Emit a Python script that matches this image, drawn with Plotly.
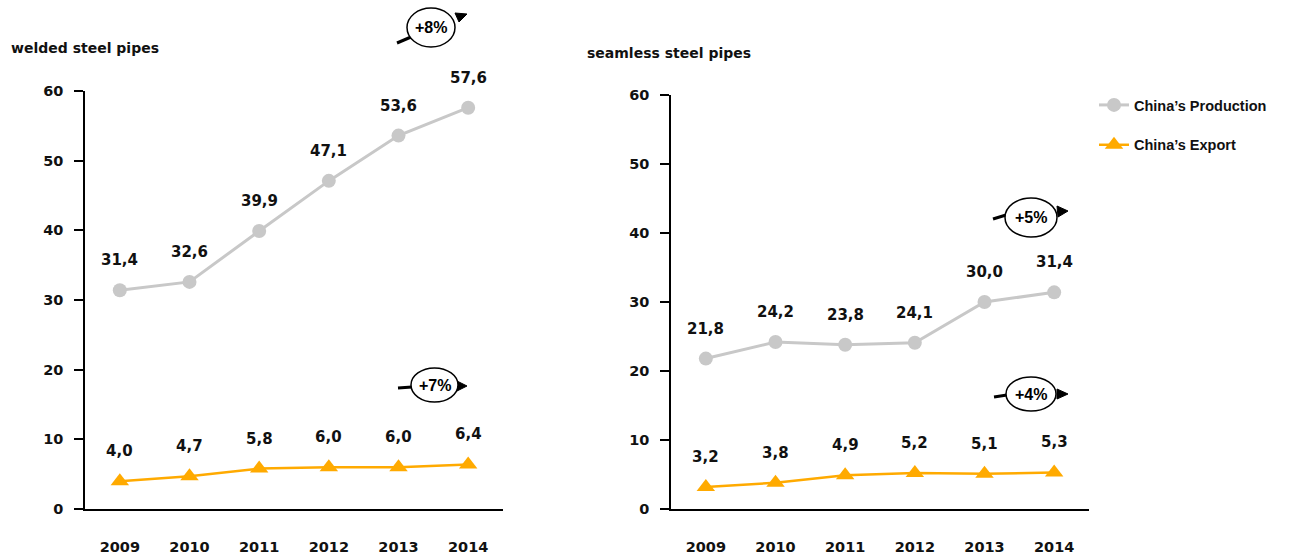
import plotly.graph_objects as go

W, H = 1301, 560

years = ["2009", "2010", "2011", "2012", "2013", "2014"]
welded_production = [31.4, 32.6, 39.9, 47.1, 53.6, 57.6]
welded_export = [4.0, 4.7, 5.8, 6.0, 6.0, 6.4]
seamless_production = [21.8, 24.2, 23.8, 24.1, 30.0, 31.4]
seamless_export = [3.2, 3.8, 4.9, 5.2, 5.1, 5.3]
y_ticks = [0, 10, 20, 30, 40, 50, 60]
titles = ["welded steel pipes", "seamless steel pipes"]
cagr_labels = ["+8%", "+7%", "+5%", "+4%"]

GRAY = "#C8C8C8"
ORANGE = "#FFAA00"
FONT = "DejaVu Sans, sans-serif"
LFONT = "Liberation Sans, Arial, sans-serif"


def px(x):
    return x / W


def py(y):
    return 1 - y / H


def fmt(v):
    return f"{v:.1f}".replace(".", ",")


fig = go.Figure()

panels = [
    ("x", "y", welded_production, welded_export, False),
    ("x2", "y2", seamless_production, seamless_export, True),
]

for xa, ya, prod, exp, show in panels:
    fig.add_trace(go.Scatter(
        x=years, y=prod, xaxis=xa, yaxis=ya, mode="lines+markers",
        name="China\u2019s Production", legendgroup="p", showlegend=show,
        line=dict(color=GRAY, width=3),
        marker=dict(symbol="circle", size=14, color=GRAY),
    ))
    fig.add_trace(go.Scatter(
        x=years, y=exp, xaxis=xa, yaxis=ya, mode="lines+markers",
        name="China\u2019s Export", legendgroup="e", showlegend=show,
        line=dict(color=ORANGE, width=2.5),
        marker=dict(symbol="triangle-up", size=16, color=ORANGE),
    ))
    for series in (prod, exp):
        for i, v in enumerate(series):
            fig.add_annotation(
                x=i, y=v, xref=xa, yref=ya, text=fmt(v), showarrow=False,
                xanchor="center", yanchor="middle",
                yshift=30, font=dict(family=FONT, size=15, color="#111", weight="bold"),
            )

axis_common_x = dict(
    type="category", range=[-0.5, len(years) - 0.5], automargin=False,
    showline=True, linecolor="#000", linewidth=1.5,
    ticks="", showgrid=False, zeroline=False, ticklabelstandoff=24,
    tickfont=dict(family=FONT, size=14.5, color="#111", weight="bold"),
    fixedrange=True,
)
axis_common_y = dict(
    range=[0, 60], tickvals=y_ticks, automargin=False,
    showline=True, linecolor="#000", linewidth=1.5,
    ticks="outside", ticklen=9, tickwidth=1.5, tickcolor="#000",
    showgrid=False, zeroline=False, ticklabelstandoff=8,
    tickfont=dict(family=FONT, size=14.5, color="#111", weight="bold"),
    fixedrange=True,
)

fig.update_layout(
    width=W, height=H, autosize=False,
    margin=dict(l=0, r=0, t=0, b=0, autoexpand=False),
    paper_bgcolor="white", plot_bgcolor="white",
    xaxis=dict(domain=[px(85), px(503)], anchor="y", **axis_common_x),
    yaxis=dict(domain=[py(509), py(91)], anchor="x", **axis_common_y),
    xaxis2=dict(domain=[px(671), px(1089)], anchor="y2", **axis_common_x),
    yaxis2=dict(domain=[py(509), py(95)], anchor="x2", **axis_common_y),
    legend=dict(
        x=px(1094), y=py(89), xanchor="left", yanchor="top",
        font=dict(family=LFONT, size=14.5, color="#111", weight="bold"),
        tracegroupgap=18, bgcolor="rgba(0,0,0,0)",
    ),
    showlegend=True,
)

# panel titles
fig.add_annotation(x=px(9), y=py(48), xref="paper", yref="paper",
                   xanchor="left", yanchor="middle",
                   text=titles[0], showarrow=False,
                   font=dict(family=FONT, size=14, color="#111", weight="bold"))
fig.add_annotation(x=px(585), y=py(53), xref="paper", yref="paper",
                   xanchor="left", yanchor="middle",
                   text=titles[1], showarrow=False,
                   font=dict(family=FONT, size=14, color="#111", weight="bold"))

# CAGR bubbles: (ellipse box), tail line, arrowhead triangle
bubbles = [
    ((407, 8, 455, 47), ((397, 43), (411, 37)), ((467, 14), (459, 22), (455, 13))),
    ((411, 368, 458, 402), ((398, 388), (412, 387)), ((467, 386), (457, 381), (457, 391))),
    ((1005, 198, 1057, 237), ((993, 219), (1006, 215)), ((1068, 211), (1057, 206), (1058, 217))),
    ((1006, 377, 1056, 411), ((994, 397), (1007, 395)), ((1068, 394), (1057, 389), (1057, 399))),
]

for (box, tail, tri), lab in zip(bubbles, cagr_labels):
    x0, y0, x1, y1 = box
    fig.add_shape(type="line", xref="paper", yref="paper",
                  x0=px(tail[0][0]), y0=py(tail[0][1]), x1=px(tail[1][0]), y1=py(tail[1][1]),
                  line=dict(color="#000", width=3), layer="above")
    path = "M {} {} L {} {} L {} {} Z".format(
        px(tri[0][0]), py(tri[0][1]), px(tri[1][0]), py(tri[1][1]), px(tri[2][0]), py(tri[2][1]))
    fig.add_shape(type="path", xref="paper", yref="paper", path=path,
                  fillcolor="#000", line=dict(color="#000", width=1), layer="above")
    fig.add_shape(type="circle", xref="paper", yref="paper",
                  x0=px(x0), y0=py(y1), x1=px(x1), y1=py(y0),
                  fillcolor="white", line=dict(color="#000", width=1.5), layer="above")
    fig.add_annotation(x=px((x0 + x1) / 2), y=py((y0 + y1) / 2), xref="paper", yref="paper",
                       xanchor="center", yanchor="middle",
                       text=lab, showarrow=False,
                       font=dict(family=LFONT, size=16, color="#000", weight="bold"))

fig.write_html("out.html")
